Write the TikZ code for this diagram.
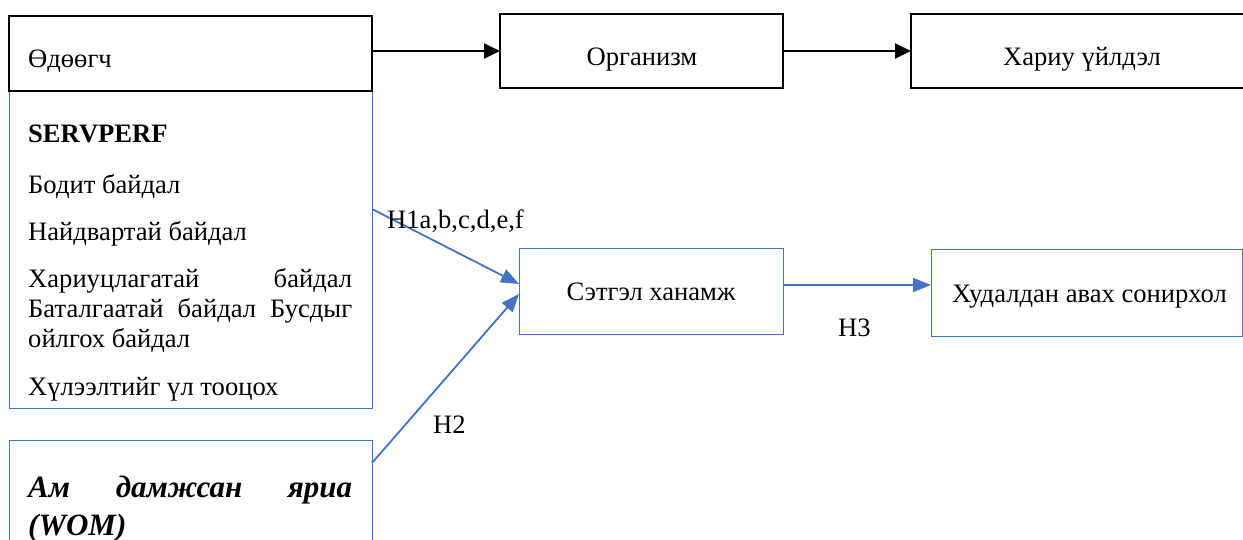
\documentclass[tikz,border=0pt]{standalone}
\usepackage{fontspec}
\setmainfont{Liberation Serif}
\usetikzlibrary{arrows.meta}
\definecolor{linkblue}{RGB}{68,114,196}
\begin{document}
\begin{tikzpicture}[x=1pt,y=-1pt,
  blackbox/.style={draw=black, line width=2pt, inner sep=0pt, outer sep=0pt, anchor=north west},
  bluebox/.style={draw=linkblue, line width=0.9pt, inner sep=0pt, outer sep=0pt, anchor=north west},
  txt/.style={font=\fontsize{26.6}{32}\selectfont, inner sep=0pt, anchor=base},
  ltxt/.style={txt, anchor=base west},
  womtxt/.style={ltxt, font=\fontsize{31}{36}\selectfont\bfseries\itshape},
  blackarrow/.style={draw=black, line width=2pt, -{Triangle[length=16pt,width=15pt]}},
  bluearrow/.style={draw=linkblue, line width=1.8pt, -{Triangle[length=18pt,width=14pt]}},
]
\useasboundingbox (0,0) rectangle (1243,539);
\clip (0,0) rectangle (1243,539);

% boxes
\node[bluebox, minimum width=363pt, minimum height=318pt] (serv) at (9,90) {};
\node[blackbox, minimum width=363pt, minimum height=75pt] (stim) at (9,16) {};
\node[blackbox, minimum width=283pt, minimum height=74pt] (org) at (500,14) {};
\node[blackbox, minimum width=350pt, minimum height=74pt] (resp) at (911,14) {};
\node[bluebox, minimum width=363pt, minimum height=130pt] (wom) at (9,440) {};
\node[bluebox, minimum width=264pt, minimum height=86pt] (sat) at (519,248) {};
\node[bluebox, minimum width=311pt, minimum height=87pt] (pur) at (931,249) {};

% connector end points
\coordinate (h1s) at (372,209);
\coordinate (h1e) at (519,284);
\coordinate (h2s) at (372,463);
\coordinate (h2e) at (519,294);
\coordinate (h3s) at (783,285);

% connectors
\draw[blackarrow] (stim.east |- org.west) -- (org.west);
\draw[blackarrow] (org.east) -- (resp.west);
\draw[bluearrow] (h1s) -- (h1e);
\draw[bluearrow] (h2s) -- (h2e);
\draw[bluearrow] (h3s) -- (h3s -| pur.west);

% box texts
\node[ltxt] (stimtxt) at (28,67) {Өдөөгч};
\node[txt] (orgtxt) at (642,65) {Организм};
\node[txt] (resptxt) at (1082,65) {Хариу үйлдэл};

\node[ltxt, font=\fontsize{26.6}{32}\selectfont\bfseries] (servtitle) at (28,142) {SERVPERF};
\node[ltxt] (s1) at (28,193) {Бодит байдал};
\node[ltxt] (s2) at (28,240) {Найдвартай байдал};
\node[ltxt] (s3) at (28,287) {\makebox[324pt][l]{Хариуцлагатай\hfill байдал}};
\node[ltxt] (s4) at (28,317) {\makebox[324pt][l]{Баталгаатай\hfill байдал\hfill Бусдыг}};
\node[ltxt] (s5) at (28,347) {ойлгох байдал};
\node[ltxt] (s6) at (28,395) {Хүлээлтийг үл тооцох};

\node[womtxt] (w1) at (28,497) {\makebox[324pt][l]{Ам\hfill дамжсан\hfill яриа}};
\node[womtxt] (w2) at (28,535) {(WOM)};

\node[txt] (sattxt) at (651,300) {Сэтгэл ханамж};
\node[ltxt] (purtxt) at (952,302) {Худалдан авах сонирхол};

% hypothesis labels
\node[ltxt] (h1lab) at (387,228) {H1a,b,c,d,e,f};
\node[ltxt] (h2lab) at (433,433) {H2};
\node[ltxt] (h3lab) at (838,336) {H3};
\end{tikzpicture}
\end{document}
